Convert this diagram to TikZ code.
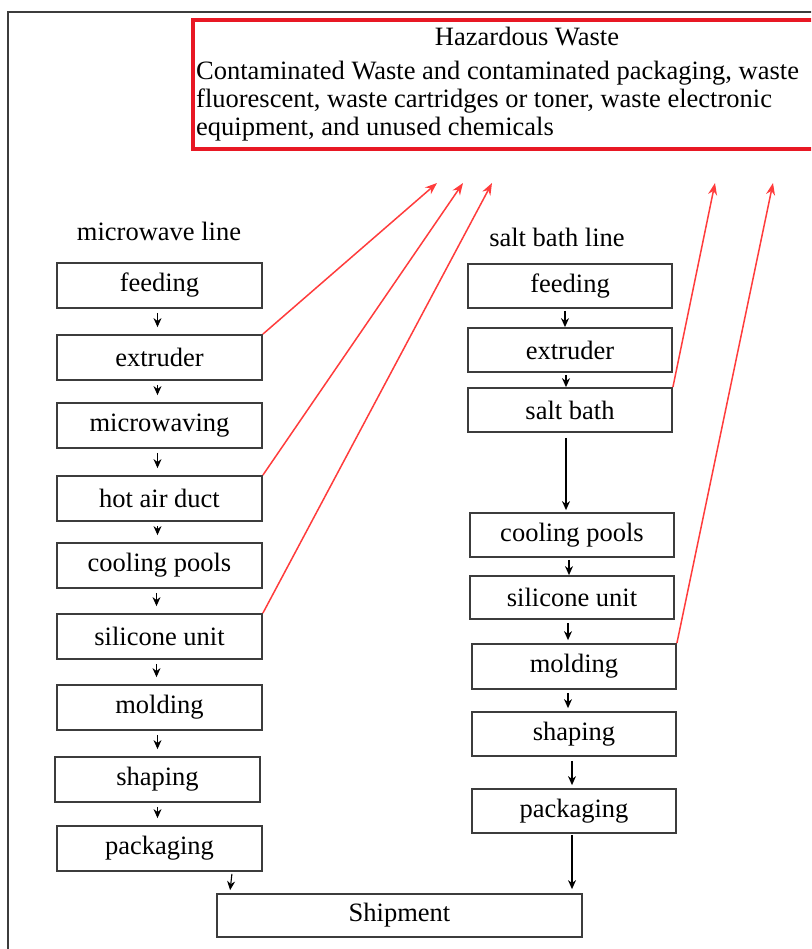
\documentclass[tikz,border=0pt]{standalone}
\usepackage{fontspec}
\setmainfont{Liberation Serif}
\usetikzlibrary{arrows.meta}
\definecolor{boxgray}{RGB}{60,60,60}
\definecolor{hazred}{RGB}{232,24,36}
\definecolor{flowred}{RGB}{255,60,60}
\tikzset{
  stepbox/.style={draw=boxgray, line width=1.8pt, minimum width=205pt, minimum height=45pt, inner sep=0pt, font=\fontsize{26.5}{28}\selectfont},
  flow/.style={-{Stealth[length=9pt,width=8pt]}, line width=1.1pt, black},
  waste/.style={-{Stealth[length=12pt,width=9pt]}, line width=1.5pt, flowred},
}
\begin{document}
\begin{tikzpicture}[x=1pt,y=-1pt]
\useasboundingbox (0,0) rectangle (811,949);
\clip (0,0) rectangle (811,949);
\draw [boxgray, line width=1.8pt] (8,12) rectangle (840,990); % frame runs off the page
\draw [hazred, line width=4pt] (193,20) rectangle (840,149);
\node [font=\fontsize{26.5}{28}\selectfont] (haztitle) at (527,37) {Hazardous Waste};
\node [font=\fontsize{26.5}{28}\selectfont, anchor=north west, align=left, inner sep=0pt] (hazlist) at (196,61)
  {Contaminated Waste and contaminated packaging, waste\\fluorescent, waste cartridges or toner, waste electronic\\equipment, and unused chemicals};

% microwave line
\node [font=\fontsize{26.5}{28}\selectfont] (mtitle) at (159,231) {microwave line};
\node [stepbox] (mfeed) at (159.5,285.5) {feeding};
\node [stepbox] (mextr) at (159.5,357.5) {extruder};
\node [stepbox] (mwave) at (159.5,425.5) {microwaving};
\node [stepbox] (mhot)  at (159.5,498.5) {hot air duct};
\node [stepbox] (mcool) at (159.5,565.5) {cooling pools};
\node [stepbox] (msil)  at (159.5,636.5) {silicone unit};
\node [stepbox] (mmold) at (159.5,707.5) {molding};
\node [stepbox] (mshap) at (157.5,779.5) {shaping};
\node [stepbox] (mpack) at (159.5,848.5) {packaging};
\draw [flow] ([xshift=-2pt,yshift=-4pt]mfeed.south) -- ([xshift=-2pt,yshift=7pt]mextr.north);
\draw [flow] ([xshift=-2pt,yshift=-4pt]mextr.south) -- ([xshift=-2pt,yshift=7pt]mwave.north);
\draw [flow] ([xshift=-2pt,yshift=-4pt]mwave.south) -- ([xshift=-2pt,yshift=7pt]mhot.north);
\draw [flow] ([xshift=-2pt,yshift=-4pt]mhot.south) -- ([xshift=-2pt,yshift=7pt]mcool.north);
\draw [flow] ([xshift=-3pt,yshift=-4pt]mcool.south) -- ([xshift=-3pt,yshift=7pt]msil.north);
\draw [flow] ([xshift=-3pt,yshift=-4pt]msil.south) -- ([xshift=-3pt,yshift=7pt]mmold.north);
\draw [flow] ([xshift=-2pt,yshift=-4pt]mmold.south) -- ([xshift=0pt,yshift=7pt]mshap.north);
\draw [flow] ([xshift=0pt,yshift=-4pt]mshap.south) -- ([xshift=-2pt,yshift=7pt]mpack.north);

% salt bath line
\node [font=\fontsize{26.5}{28}\selectfont] (stitle) at (557,237) {salt bath line};
\node [stepbox, minimum width=204pt, minimum height=44pt] (sfeed) at (570,286) {feeding};
\node [stepbox, minimum width=204pt, minimum height=44pt] (sextr) at (570,350) {extruder};
\node [stepbox, minimum width=204pt, minimum height=44pt] (ssalt) at (570,410) {salt bath};
\node [stepbox, minimum width=204pt, minimum height=44pt] (scool) at (572,535) {cooling pools};
\node [stepbox, minimum width=204pt, minimum height=43pt] (ssil)  at (572,597.5) {silicone unit};
\node [stepbox, minimum width=204pt] (smold) at (574,666.5) {molding};
\node [stepbox, minimum width=204pt, minimum height=44pt] (sshap) at (574,734) {shaping};
\node [stepbox, minimum width=204pt, minimum height=44pt] (spack) at (574,811) {packaging};
\draw [flow] ([xshift=-5pt,yshift=-2pt]sfeed.south) -- ([xshift=-5pt]sextr.north);
\draw [flow] ([xshift=-4pt,yshift=-2pt]sextr.south) -- ([xshift=-4pt]ssalt.north);
\draw [flow] ([xshift=-4pt,yshift=-5pt]ssalt.south) -- ([xshift=-6pt,yshift=2pt]scool.north);
\draw [flow] ([xshift=-3pt,yshift=-2pt]scool.south) -- ([xshift=-3pt]ssil.north);
\draw [flow] ([xshift=-4pt,yshift=-3pt]ssil.south) -- ([xshift=-6pt,yshift=3pt]smold.north);
\draw [flow] ([xshift=-6pt,yshift=-3pt]smold.south) -- ([xshift=-6pt,yshift=3pt]sshap.north);
\draw [flow] ([xshift=-2pt,yshift=-4pt]sshap.south) -- ([xshift=-2pt,yshift=3pt]spack.north);

% both lines end in shipment
\node [stepbox, minimum width=365pt, minimum height=43pt] (ship) at (399.5,915.5) {Shipment};
\draw [flow] ([xshift=-31pt,yshift=-2pt]mpack.south east) -- ([xshift=14pt,yshift=3pt]ship.north west);
\draw [flow] ([xshift=-2pt,yshift=-1pt]spack.south) -- ([xshift=172.5pt,yshift=4pt]ship.north);

% waste streams
\coordinate (wa) at (437,183);
\coordinate (wb) at (463,183);
\coordinate (wc) at (492,183);
\coordinate (wd) at (715,183);
\coordinate (we) at (773,183);
\draw [waste] (mextr.north east) -- (wa);
\draw [waste] (mhot.north east) -- (wb);
\draw [waste] (msil.north east) -- (wc);
\draw [waste] (ssalt.north east) -- (wd);
\draw [waste] (smold.north east) -- (we);
\end{tikzpicture}
\end{document}
